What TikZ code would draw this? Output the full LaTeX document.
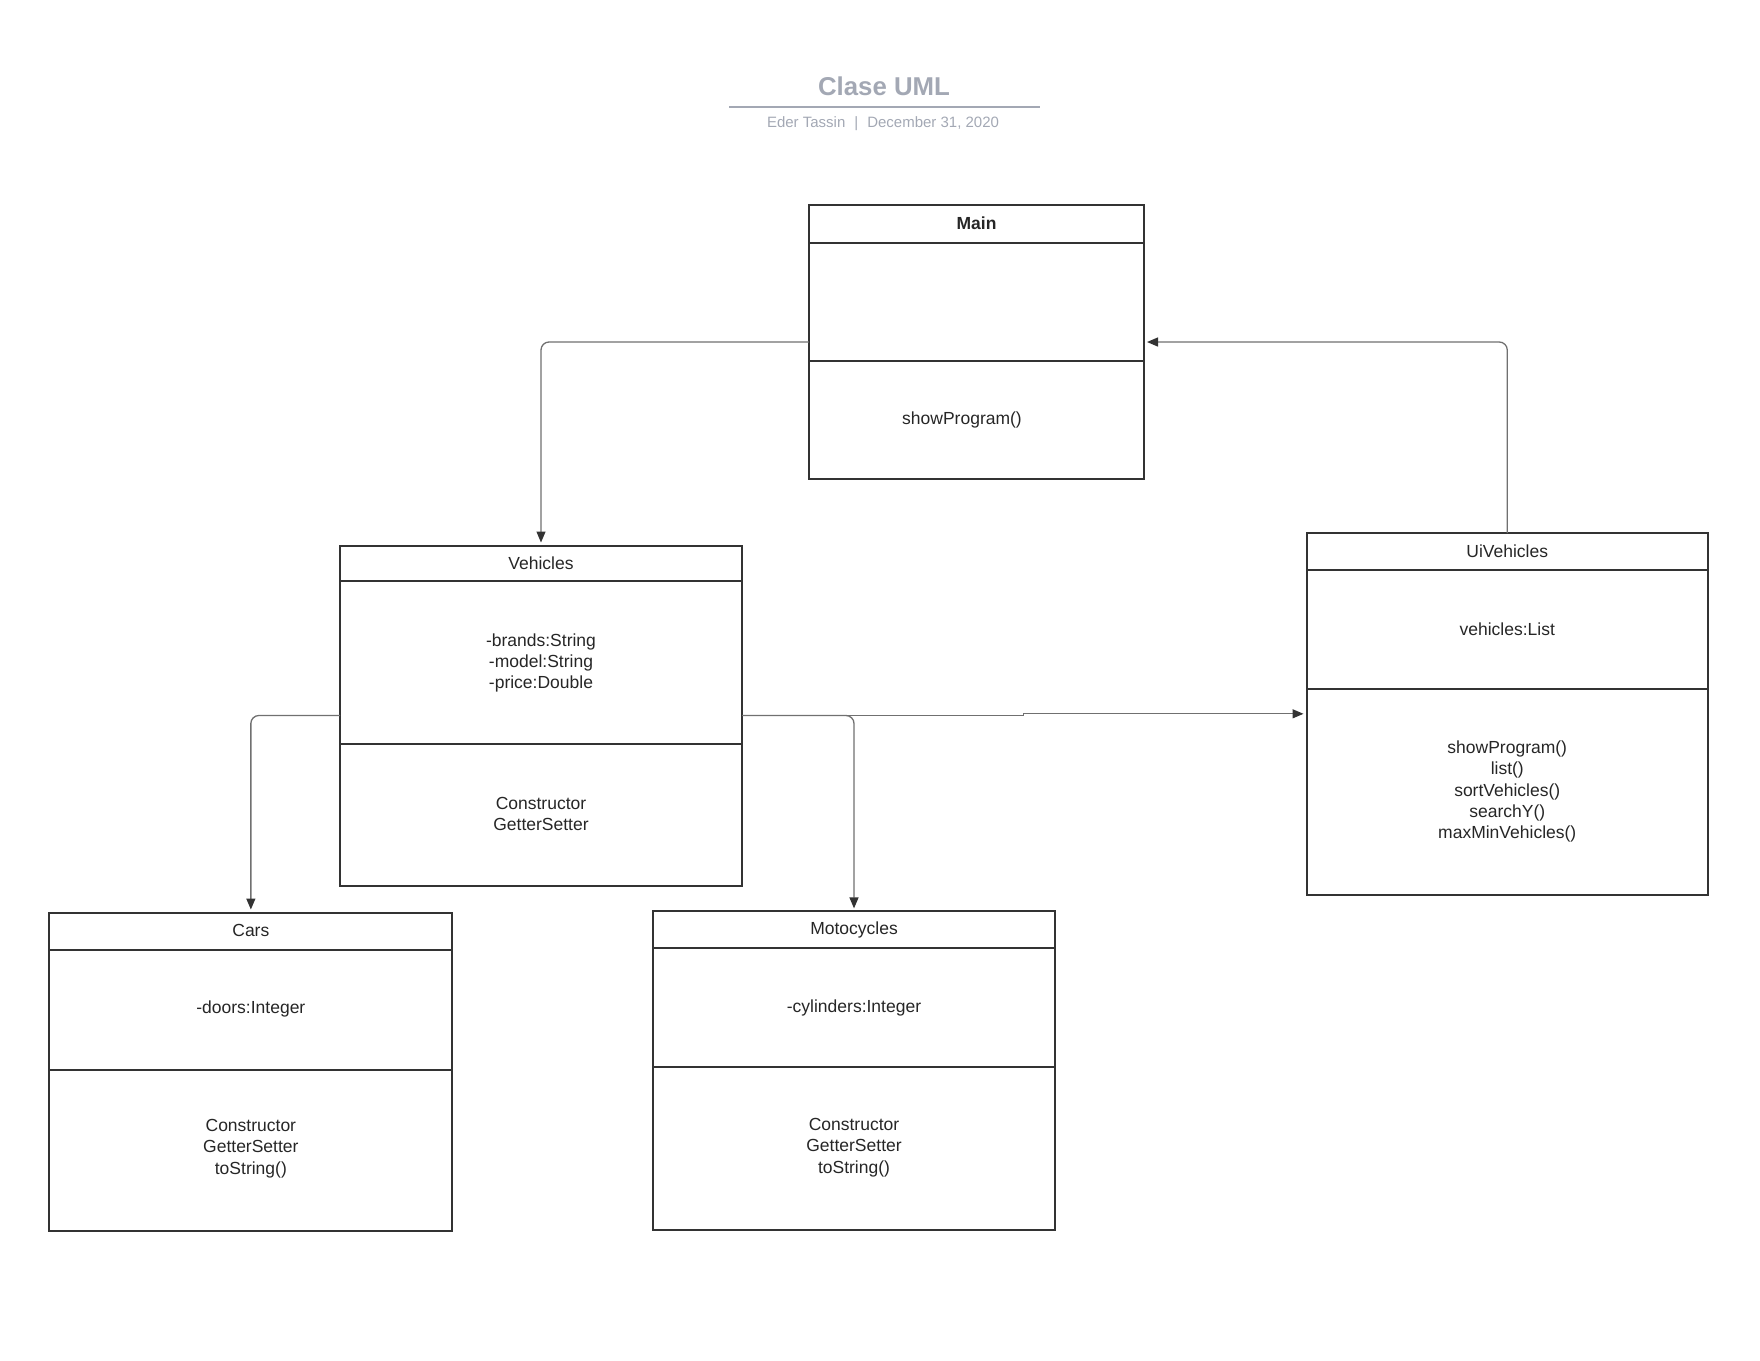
\documentclass[tikz,border=0pt]{standalone}
\usepackage{fontspec}
\setmainfont{Liberation Sans}
\usetikzlibrary{arrows.meta}
\definecolor{titlegray}{RGB}{163,168,180}
\definecolor{ink}{RGB}{38,38,38}
\definecolor{boxline}{RGB}{51,51,51}
\definecolor{wire}{RGB}{112,112,112}
\begin{document}
\begin{tikzpicture}[x=1pt,y=-1pt,
  classbox/.style={draw=boxline, line width=2pt, inner sep=0pt, outer sep=0pt},
  sepline/.style={draw=boxline, line width=2pt},
  txt/.style={text=ink, font=\fontsize{17.5}{21.3}\selectfont, align=center, inner sep=0pt, yshift=-2pt},
  link/.style={draw=wire, line width=1.3pt, rounded corners=8pt,
    -{Triangle[length=11pt,width=9pt,color=boxline]}, shorten >=3pt}
]
\useasboundingbox (0,0) rectangle (1760,1360);

% header
\node[text=titlegray, font=\fontsize{25.8}{30}\selectfont\bfseries, inner sep=0pt] (title) at (884,86) {Clase UML};
\draw[titlegray, line width=2pt] (729,107) -- (1040,107);
\node[text=titlegray, font=\fontsize{15}{18}\selectfont, inner sep=0pt] (author) at (883,124)
  {Eder Tassin\hspace{0.6em}|\hspace{0.6em}December 31, 2020};

% Main
\node[classbox, minimum width=335pt, minimum height=274pt] (main) at (976.5,342) {};
\draw[sepline] (809,242.5) -- (1144,242.5);
\draw[sepline] (809,361.4) -- (1144,361.4);
\node[txt, font=\fontsize{17.5}{21.3}\selectfont\bfseries] (mainT) at (976.5,221.5) {Main};
\node[txt] (mainM) at (962,417.5) {showProgram()};

% Vehicles
\node[classbox, minimum width=402pt, minimum height=340pt] (vehicles) at (541,715.5) {};
\draw[sepline] (340,581.4) -- (742,581.4);
\draw[sepline] (340,744) -- (742,744);
\node[txt] (vehT) at (541,561) {Vehicles};
\node[txt] (vehA) at (541,661) {-brands:String\\-model:String\\-price:Double};
\node[txt] (vehM) at (541,812) {Constructor\\GetterSetter};

% UiVehicles
\node[classbox, minimum width=401.5pt, minimum height=361.6pt] (uivehicles) at (1507.25,713.8) {};
\draw[sepline] (1306.5,570) -- (1708,570);
\draw[sepline] (1306.5,689) -- (1708,689);
\node[txt] (uiT) at (1507.25,549) {UiVehicles};
\node[txt] (uiA) at (1507.25,627.4) {vehicles:List};
\node[txt] (uiM) at (1507.25,789.5) {showProgram()\\list()\\sortVehicles()\\searchY()\\maxMinVehicles()};

% Cars
\node[classbox, minimum width=403pt, minimum height=318.5pt] (cars) at (250.85,1071.75) {};
\draw[sepline] (49.4,949.6) -- (452.3,949.6);
\draw[sepline] (49.4,1069.6) -- (452.3,1069.6);
\node[txt] (carT) at (250.85,928.5) {Cars};
\node[txt] (carA) at (250.85,1007) {-doors:Integer};
\node[txt] (carM) at (250.85,1146.5) {Constructor\\GetterSetter\\toString()};

% Motocycles
\node[classbox, minimum width=402pt, minimum height=318.6pt] (moto) at (854,1070.7) {};
\draw[sepline] (653,948.4) -- (1055,948.4);
\draw[sepline] (653,1067.4) -- (1055,1067.4);
\node[txt] (motoT) at (854,927.5) {Motocycles};
\node[txt] (motoA) at (854,1006) {-cylinders:Integer};
\node[txt] (motoM) at (854,1145.5) {Constructor\\GetterSetter\\toString()};

% connectors
\coordinate (jog) at (1023.6,0);
\draw[link] (main.west) -| (vehicles.north);
\draw[link] (uivehicles.north) |- (main.east);
\draw[link] (vehicles.west) -| (cars.north);
\draw[link] (vehicles.east) -| (moto.north);
\draw[link, rounded corners=0pt] (vehicles.east) -- (vehicles.east -| jog) -- (uivehicles.west -| jog) -- (uivehicles.west);
\end{tikzpicture}
\end{document}
